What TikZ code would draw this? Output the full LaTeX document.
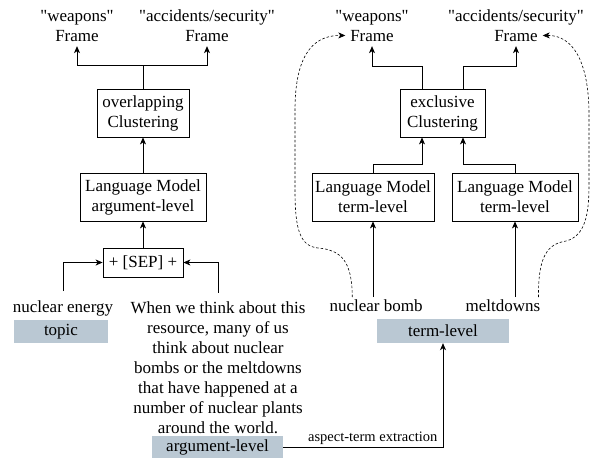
\documentclass[tikz,border=0pt]{standalone}
\usepackage{fontspec}
\setmainfont{Liberation Serif}
\usetikzlibrary{arrows.meta}
\definecolor{tagblue}{HTML}{BAC8D3}
\newcommand{\dq}{\XeTeXglyph\XeTeXcharglyph"22\relax}
\tikzset{
  txt/.style={inner sep=0pt, font=\fontsize{17}{20}\selectfont, align=center},
  frm/.style={txt, anchor=base},
  box/.style={txt, draw, line width=0.8pt},
  tag/.style={txt, fill=tagblue},
  arr/.style={line width=0.8pt, -{Stealth[length=7pt,width=6pt,inset=2pt]}},
  dsh/.style={line width=0.6pt, dash pattern=on 2.5pt off 2pt, -{Stealth[length=7pt,width=6pt,inset=2pt]}}
}
\begin{document}
\begin{tikzpicture}[x=1pt,y=-1pt]
\useasboundingbox (0,0) rectangle (594,459);
\node[frm] (lw) at (77,21) {\dq weapons\dq};
\node[frm, outer sep=5pt] (lwf) at (77,41) {Frame};
\node[frm] (la) at (207,21) {\dq accidents/security\dq};
\node[frm, outer sep=5pt] (laf) at (207,41) {Frame};
\node[box, minimum width=92, minimum height=48] (oc) at (143,113) {overlapping\\Clustering};
\node[box, minimum width=126, minimum height=48] (lma) at (143,197) {Language Model\\argument-level};
\node[box, minimum width=80, minimum height=29] (sep) at (143,262.5) {+ [SEP] +};
\node[frm, outer ysep=9pt] (ne) at (63,312) {nuclear energy};
\node[tag, minimum width=94, minimum height=23] (tp) at (61,331.5) {topic};
\node[txt, outer ysep=9pt] (arg) at (218,368) {When we think about this\\resource, many of us\\think about nuclear\\bombs or the meltdowns\\that have happened at a\\number of nuclear plants\\around the world.};
\node[tag, minimum width=131, minimum height=22] (al) at (217.5,447) {argument-level};
\node[frm] (rw) at (372,21) {\dq weapons\dq};
\node[frm, outer sep=5pt] (rwf) at (372,41) {Frame};
\node[frm] (ra) at (516,21) {\dq accidents/security\dq};
\node[frm, outer sep=5pt] (raf) at (516,41) {Frame};
\node[box, minimum width=85, minimum height=48] (ec) at (442.5,113) {exclusive\\Clustering};
\node[box, minimum width=122, minimum height=48] (lt1) at (373,197) {Language Model\\term-level};
\node[box, minimum width=126, minimum height=48] (lt2) at (515,197) {Language Model\\term-level};
\node[frm, outer ysep=2pt] (nb) at (376,311) {nuclear bomb};
\node[frm, outer ysep=2pt] (md) at (503,311) {meltdowns};
\node[tag, minimum width=132, minimum height=24] (tl) at (443,331) {term-level};
\draw[arr] (oc.north) -- ++(0,-23) -| (lwf.south);
\draw[arr] (oc.north) -- ++(0,-23) -| (laf.south);
\draw[arr] (lma) -- (oc);
\draw[arr] (sep) -- (lma);
\draw[arr] (ne.north) |- (sep.west);
\draw[arr] (arg.north) |- (sep.east);
\draw[arr] ([xshift=-20.5pt]ec.north) -- ++(0,-22) -| (rwf.south);
\draw[arr] ([xshift=20.5pt]ec.north) -- ++(0,-22) -| (raf.south);
\draw[arr] (lt1.north) -- ++(0,-8) -| ([xshift=-20.5pt]ec.south);
\draw[arr] (lt2.north) -- ++(0,-8) -| ([xshift=20.5pt]ec.south);
\draw[arr] (nb.north -| lt1) -- (lt1.south);
\draw[arr] (md.north -| lt2) -- (lt2.south);
\draw[arr] (al.east) -| (tl.south) node[pos=0.28, above, inner sep=2pt, font=\fontsize{14.5}{16}\selectfont] {aspect-term extraction};
\draw[dsh] ([xshift=23pt]nb.north west) .. controls (352,262) and (342,250) .. (318,248) .. controls (300,246) and (295,230) .. (295,190) -- (295,110) .. controls (295,60) and (310,35) .. (rwf.west);
\draw[dsh] ([xshift=-2pt]md.north east) .. controls (538,255) and (548,244) .. (566,241) .. controls (585,236) and (589,215) .. (589,185) -- (589,115) .. controls (589,60) and (572,35) .. (raf.east);
\end{tikzpicture}
\end{document}
